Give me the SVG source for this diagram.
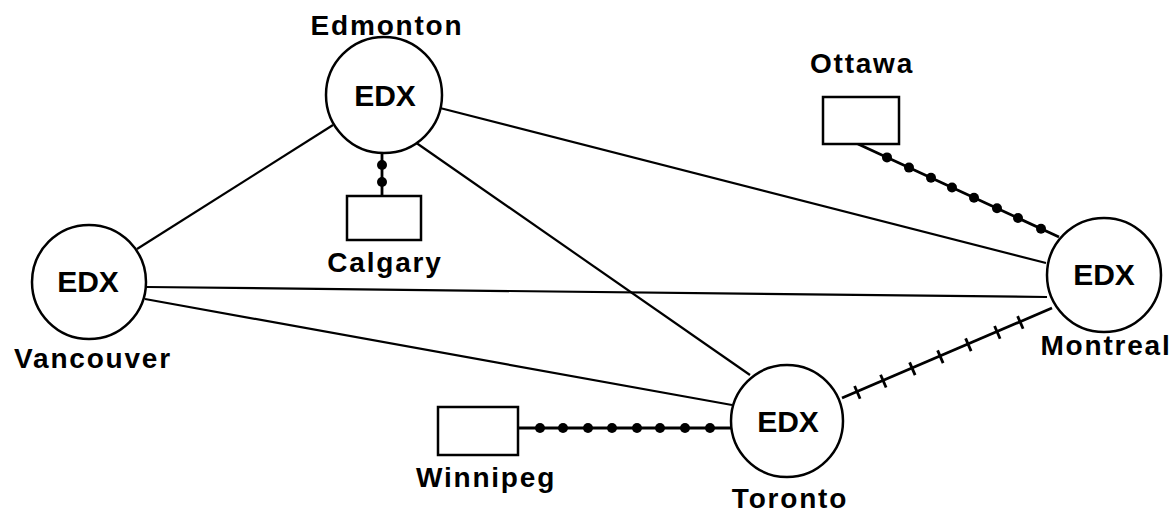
<svg xmlns="http://www.w3.org/2000/svg" width="1175" height="516" viewBox="0 0 1175 516">
<defs>
<style>
.node{fill:#fff;stroke:#000;stroke-width:2.5}
.box{fill:#fff;stroke:#000;stroke-width:2.5}
.edx{font-family:"Liberation Sans",Arial,sans-serif;font-weight:bold;font-size:30px;fill:#000;text-anchor:middle}
.lbl{font-family:"Liberation Sans",Arial,sans-serif;font-weight:bold;font-size:28px;letter-spacing:1.8px;fill:#000;text-anchor:middle}
.ln{stroke:#000;stroke-width:2.2;fill:none}
.lk{stroke:#000;stroke-width:2.8;fill:none}
.dot{fill:#000}
</style>
</defs>
<rect width="1175" height="516" fill="#fff"/>
<g id="connectors">
<line class="ln" x1="333" y1="125" x2="137" y2="249"/>
<line class="ln" x1="440" y1="108" x2="1046" y2="263"/>
<line class="ln" x1="415" y1="142" x2="750" y2="375"/>
<line class="ln" x1="147" y1="287" x2="1047" y2="297"/>
<line class="ln" x1="145" y1="299" x2="732" y2="405"/>
<g id="toronto-montreal">
<line class="lk" x1="842" y1="398" x2="1052" y2="308"/>
<g class="lk">
<line x1="854.6" y1="386" x2="860.1" y2="398.7"/>
<line x1="880.6" y1="374.8" x2="886.1" y2="387.5"/>
<line x1="909.6" y1="362.4" x2="915.1" y2="375.1"/>
<line x1="937.6" y1="350.4" x2="943.1" y2="363.1"/>
<line x1="965.6" y1="338.4" x2="971.1" y2="351.1"/>
<line x1="994.6" y1="326" x2="1000.1" y2="338.7"/>
<line x1="1017.6" y1="316.1" x2="1023.1" y2="328.8"/>
</g>
</g>
<g id="ottawa-montreal">
<line class="lk" x1="858" y1="144" x2="1059" y2="237"/>
<circle class="dot" cx="887" cy="157.4" r="5"/>
<circle class="dot" cx="909" cy="167.6" r="5"/>
<circle class="dot" cx="931" cy="177.8" r="5"/>
<circle class="dot" cx="952" cy="187.5" r="5"/>
<circle class="dot" cx="974" cy="197.7" r="5"/>
<circle class="dot" cx="997" cy="208.3" r="5"/>
<circle class="dot" cx="1018" cy="218" r="5"/>
<circle class="dot" cx="1041" cy="228.7" r="5"/>
</g>
<g id="winnipeg-toronto">
<line class="lk" x1="518" y1="428" x2="732" y2="428"/>
<circle class="dot" cx="540" cy="428" r="5"/>
<circle class="dot" cx="563" cy="428" r="5"/>
<circle class="dot" cx="588" cy="428" r="5"/>
<circle class="dot" cx="612" cy="428" r="5"/>
<circle class="dot" cx="637" cy="428" r="5"/>
<circle class="dot" cx="660" cy="428" r="5"/>
<circle class="dot" cx="685" cy="428" r="5"/>
<circle class="dot" cx="710" cy="428" r="5"/>
</g>
<g id="calgary-edmonton">
<line class="lk" x1="382" y1="153" x2="382" y2="196"/>
<circle class="dot" cx="382" cy="165" r="5"/>
<circle class="dot" cx="382" cy="182" r="5"/>
</g>
</g>
<g id="edmonton">
<circle class="node" cx="384" cy="95" r="58"/>
<text class="edx" x="385" y="106">EDX</text>
<text class="lbl" x="387" y="35">Edmonton</text>
</g>
<g id="vancouver">
<circle class="node" cx="89" cy="282" r="57"/>
<text class="edx" x="88" y="292">EDX</text>
<text class="lbl" x="93" y="368">Vancouver</text>
</g>
<g id="montreal">
<circle class="node" cx="1104" cy="275" r="57"/>
<text class="edx" x="1104" y="285">EDX</text>
<text class="lbl" x="1106" y="355">Montreal</text>
</g>
<g id="toronto">
<circle class="node" cx="787" cy="421" r="56"/>
<text class="edx" x="788" y="432">EDX</text>
<text class="lbl" x="790" y="508">Toronto</text>
</g>
<g id="ottawa">
<rect class="box" x="823" y="97" width="76" height="47"/>
<text class="lbl" x="862" y="73">Ottawa</text>
</g>
<g id="calgary">
<rect class="box" x="347" y="196" width="74" height="44"/>
<text class="lbl" x="385" y="272">Calgary</text>
</g>
<g id="winnipeg">
<rect class="box" x="438" y="407" width="80" height="48"/>
<text class="lbl" x="486" y="487">Winnipeg</text>
</g>
</svg>
